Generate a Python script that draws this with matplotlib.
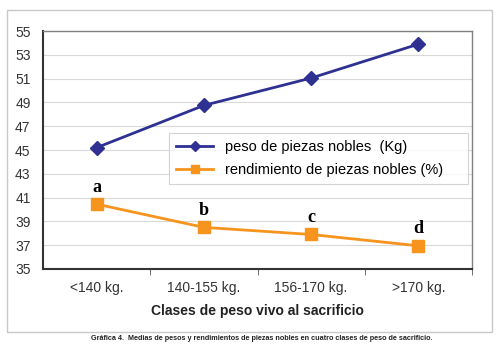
import matplotlib.pyplot as plt
from matplotlib.patches import Rectangle

categories = ["<140 kg.", "140-155 kg.", "156-170 kg.", ">170 kg."]
peso = [45.2, 48.75, 51.05, 53.9]
rendimiento = [40.45, 38.5, 37.9, 36.95]
letters = ["a", "b", "c", "d"]
yticks = list(range(35, 56, 2))

plt.rcParams["font.family"] = ["Liberation Sans", "DejaVu Sans"]

fig = plt.figure(figsize=(5.0, 3.53), dpi=100)
ax = fig.add_axes([0.086, 0.238, 0.858, 0.674])

# light frame around the whole chart
fig.patches.append(Rectangle((0.014, 0.06), 0.97, 0.912, transform=fig.transFigure,
                             fill=False, edgecolor="#c8c8c8", linewidth=1.0))

x = list(range(len(categories)))
ax.plot(x, peso, color="#2e3192", linewidth=2, marker="D", markersize=7,
        label="peso de piezas nobles  (Kg)")
ax.plot(x, rendimiento, color="#f7941d", linewidth=2, marker="s", markersize=8,
        label="rendimiento de piezas nobles (%)")

for xi, yi, t in zip(x, rendimiento, letters):
    ax.annotate(t, (xi, yi), xytext=(0, 6), textcoords="offset points", ha="center",
                va="bottom", fontsize=13, fontweight="bold", family="Liberation Serif")

ax.set_xlim(-0.5, 3.5)
ax.set_ylim(35, 55)
ax.set_yticks(yticks)
ax.set_xticks(x)
ax.set_xticklabels(categories, fontsize=10, color="#333333")
ax.set_xticks([0.5, 1.5, 2.5, 3.5], minor=True)
ax.tick_params(axis="x", which="major", length=0, pad=9)
ax.tick_params(axis="x", which="minor", length=4, color="#555555")
ax.tick_params(axis="y", length=0, labelsize=10, labelcolor="#333333", pad=9)
ax.yaxis.grid(True, color="#d9d9d9", linewidth=0.8)
ax.set_axisbelow(True)

for side in ("left", "bottom"):
    ax.spines[side].set_color("#333333")
    ax.spines[side].set_linewidth(1.5)
for side in ("top", "right"):
    ax.spines[side].set_color("#7f7f7f")
    ax.spines[side].set_linewidth(1.0)

ax.set_xlabel("Clases de peso vivo al sacrificio", fontsize=10, fontweight="bold",
              labelpad=6, color="#222222")

leg = ax.legend(loc="upper left", bbox_to_anchor=(0.294, 0.361, 0.697, 0.21),
                mode="expand", borderaxespad=0, fontsize=10.5, frameon=True,
                fancybox=False, handlelength=2.5, markerscale=0.75,
                borderpad=0.5, labelspacing=0.6)
leg.get_frame().set_edgecolor("#c8c8c8")
leg.get_frame().set_linewidth(0.8)

fig.text(0.524, 0.042, "Gráfica 4.  Medias de pesos y rendimientos de piezas nobles en cuatro clases de peso de sacrificio.",
         ha="center", va="center", fontsize=5.2, fontweight="bold", color="#222222")

fig.savefig("out.png", dpi=100)
